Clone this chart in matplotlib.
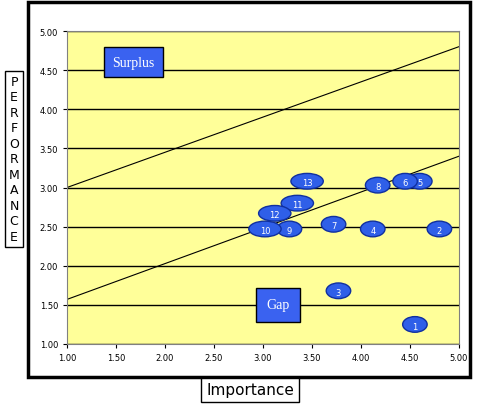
import matplotlib
matplotlib.use("Agg")
import matplotlib.pyplot as plt
from matplotlib.patches import Ellipse, Rectangle

labels = ["1","2","3","4","5","6","7","8","9","10","11","12","13"]
imp = [4.55,4.80,3.77,4.12,4.60,4.45,3.72,4.17,3.27,3.02,3.35,3.12,3.45]
perf = [1.25,2.47,1.68,2.47,3.08,3.08,2.53,3.03,2.47,2.47,2.80,2.67,3.08]
widths = [0.25,0.25,0.25,0.25,0.25,0.25,0.25,0.25,0.25,0.33,0.33,0.33,0.33]
line_x = [1.0, 5.0]
upper_y = [3.0, 4.8]
lower_y = [1.57, 3.4]

fig = plt.figure(figsize=(4.94,4.10), dpi=100)
fig.patches.append(Rectangle((28/494, 1-378/410), 442/494, 375/410, transform=fig.transFigure,
                             fill=False, lw=2.5, ec="black"))
ax = fig.add_axes([67/494, 1-345/410, 392/494, 313/410])
ax.set_facecolor("#FFFF99")
for s in ax.spines.values():
    s.set_color("#808080")
ax.set_xlim(1,5); ax.set_ylim(1,5)
ax.set_xticks([1+0.5*i for i in range(9)])
ax.set_yticks([1+0.5*i for i in range(9)])
ax.xaxis.set_major_formatter(matplotlib.ticker.FormatStrFormatter("%.2f"))
ax.yaxis.set_major_formatter(matplotlib.ticker.FormatStrFormatter("%.2f"))
ax.tick_params(labelsize=6, length=3)
ax.grid(axis="y", color="black", lw=1)
ax.set_axisbelow(True)
ax.plot(line_x, upper_y, color="black", lw=0.8)
ax.plot(line_x, lower_y, color="black", lw=0.8)
for l,x,y,w in zip(labels,imp,perf,widths):
    ax.add_patch(Ellipse((x,y), w, 0.2, fc="#2F5FE8", ec="#1030A0", lw=1, zorder=3))
    ax.text(x,y-0.02,l,color="white",fontsize=6,ha="center",va="center",zorder=4)
ax.text(1.68,4.6,"Surplus",fontsize=10,family="Liberation Serif",color="white",ha="center",va="center",
        bbox=dict(boxstyle="square,pad=0.6",fc="#3A62F0",ec="black"))
ax.text(3.15,1.5,"Gap",fontsize=10,family="Liberation Serif",color="white",ha="center",va="center",
        bbox=dict(boxstyle="square,pad=0.75",fc="#3A62F0",ec="black"))
fig.text(250/494, 1-391/410, "Importance", fontsize=11, ha="center", va="center",
         bbox=dict(boxstyle="square,pad=0.3",fc="white",ec="black"))
fig.text(14/494, 1-160/410, "\n".join("PERFORMANCE"), fontsize=9, ha="center", va="center",
         linespacing=1.25, bbox=dict(boxstyle="square,pad=0.3",fc="white",ec="black"))
fig.savefig("out.png", dpi=100)
